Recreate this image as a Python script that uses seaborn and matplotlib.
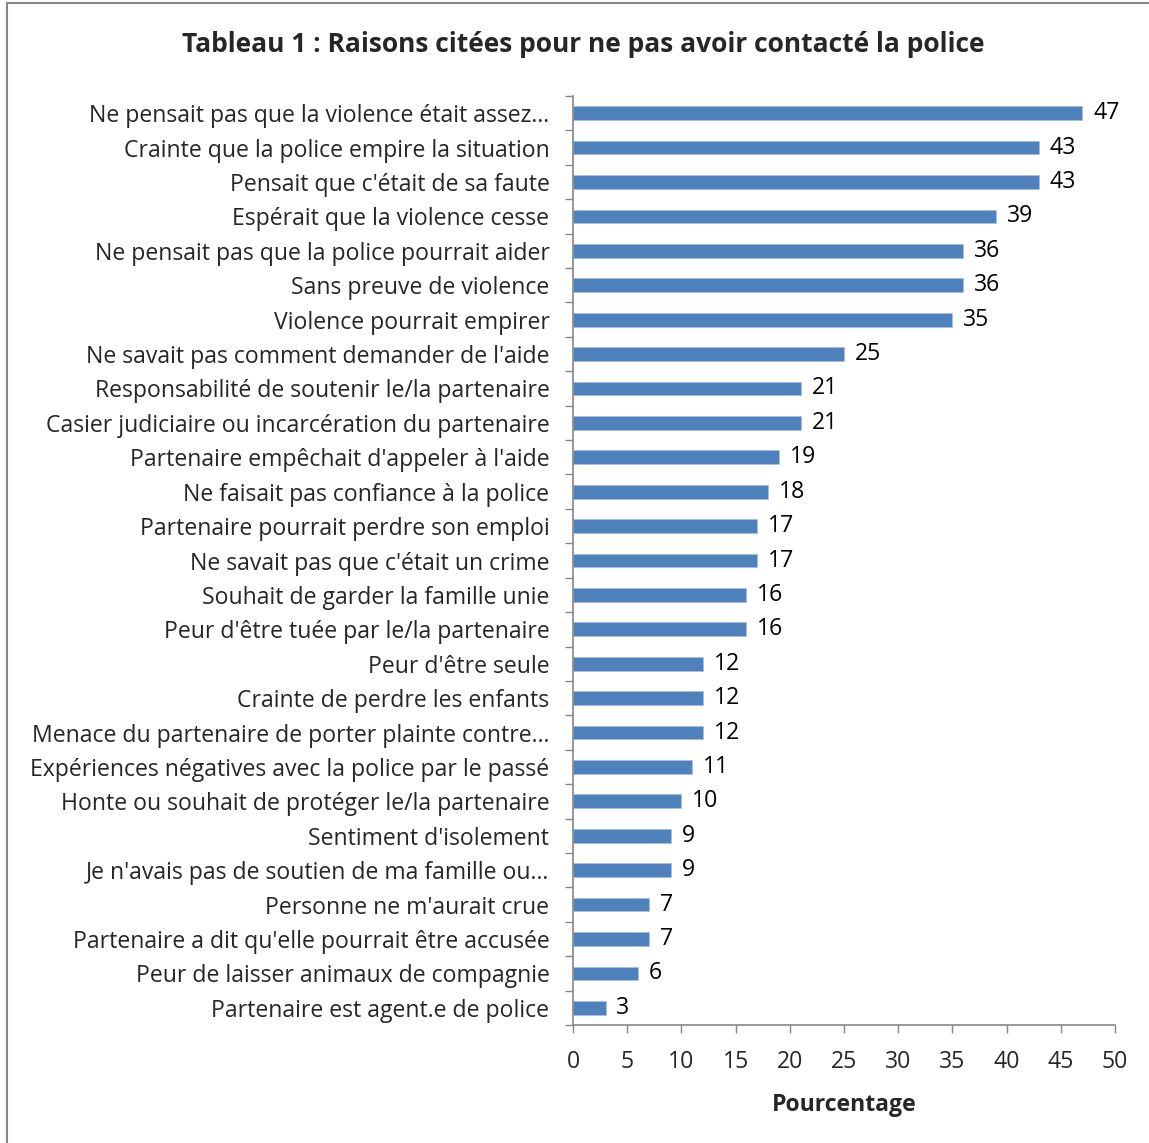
import matplotlib
matplotlib.use("Agg")
import matplotlib.pyplot as plt
import seaborn as sns
import numpy as np
import pandas as pd
from matplotlib.patches import Rectangle

categories = [
    "Ne pensait pas que la violence était assez…",
    "Crainte que la police empire la situation",
    "Pensait que c'était de sa faute",
    "Espérait que la violence cesse",
    "Ne pensait pas que la police pourrait aider",
    "Sans preuve de violence",
    "Violence pourrait empirer",
    "Ne savait pas comment demander de l'aide",
    "Responsabilité de soutenir le/la partenaire",
    "Casier judiciaire ou incarcération du partenaire",
    "Partenaire empêchait d'appeler à l'aide",
    "Ne faisait pas confiance à la police",
    "Partenaire pourrait perdre son emploi",
    "Ne savait pas que c'était un crime",
    "Souhait de garder la famille unie",
    "Peur d'être tuée par le/la partenaire",
    "Peur d'être seule",
    "Crainte de perdre les enfants",
    "Menace du partenaire de porter plainte contre…",
    "Expériences négatives avec la police par le passé",
    "Honte ou souhait de protéger le/la partenaire",
    "Sentiment d'isolement",
    "Je n'avais pas de soutien de ma famille ou…",
    "Personne ne m'aurait crue",
    "Partenaire a dit qu'elle pourrait être accusée",
    "Peur de laisser animaux de compagnie",
    "Partenaire est agent.e de police",
]
values = [47, 43, 43, 39, 36, 36, 35, 25, 21, 21, 19, 18, 17, 17, 16, 16,
          12, 12, 12, 11, 10, 9, 9, 7, 7, 6, 3]
x_ticks = [0, 5, 10, 15, 20, 25, 30, 35, 40, 45, 50]

sns.set_theme(style="white")
plt.rcParams['font.family'] = ['Open Sans', 'DejaVu Sans']

FS = 16.6
W, H = 1149, 1143
fig = plt.figure(figsize=(W / 100, H / 100), dpi=100)
ax = fig.add_axes([573 / W, 1 - 1025 / H, (1115 - 573) / W, (1025 - 96) / H])

df = pd.DataFrame({"cat": categories, "val": values})
sns.barplot(data=df, x="val", y="cat", ax=ax, color="#4F81BD", width=0.4,
            saturation=1, edgecolor="#A7C0DE", linewidth=0.6)

ax.set_xlim(0, 50)
ax.set_ylim(len(categories) - 0.5, -0.5)
ax.set_xticks(x_ticks)
ax.set_xticklabels([str(t) for t in x_ticks], fontsize=FS)
ax.tick_params(axis="x", length=6, width=1, color="#868686", direction="out",
               pad=12, bottom=True)
ax.tick_params(axis="y", which="major", length=0, pad=17, labelsize=FS)
ax.set_yticks(np.arange(-0.5, len(categories)), minor=True)
ax.tick_params(axis="y", which="minor", length=6, width=1, color="#868686",
               direction="out", left=True)
ax.set_ylabel("")
ax.set_xlabel("Pourcentage", fontsize=FS, fontweight="bold", labelpad=14)

for s in ["top", "right"]:
    ax.spines[s].set_visible(False)
for s in ["left", "bottom"]:
    ax.spines[s].set_color("#868686")
    ax.spines[s].set_linewidth(1.2)

for i, v in enumerate(values):
    ax.text(v + 1.0, i, str(v), va="center", ha="left", fontsize=FS,
            color="black")

fig.text(583 / W, 1 - 45 / H, "Tableau 1 : Raisons citées pour ne pas avoir contacté la police",
         ha="center", va="center", fontsize=19, fontweight="bold")

fig.patches.append(Rectangle((7 / W, -0.01), 1.05, 1 - 3 / H + 0.01,
                             transform=fig.transFigure, fill=False,
                             edgecolor="#868686", linewidth=1.5))

fig.savefig("out.png", dpi=100)
